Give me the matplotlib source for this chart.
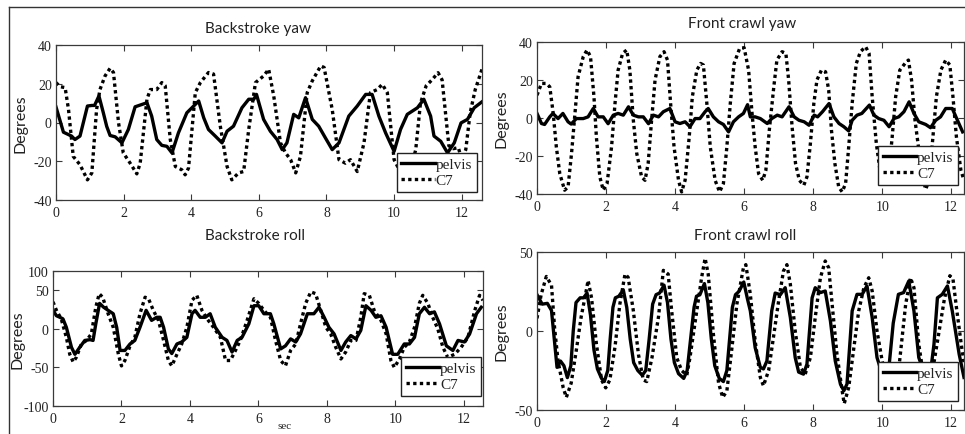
import matplotlib
matplotlib.use("Agg")
import matplotlib.pyplot as plt
from matplotlib.lines import Line2D

# ---------------- data ----------------
# Backstroke yaw
bs_yaw_pelvis_t = [0, 0.22, 0.46, 0.56, 0.71, 0.93, 1.06, 1.14, 1.27, 1.4, 1.5, 1.6, 1.75, 1.95, 2.14, 2.34,
                   2.54, 2.69, 2.83, 2.98, 3.13, 3.28, 3.43, 3.62, 3.87, 4.02, 4.22, 4.37, 4.51, 4.71, 4.91,
                   5.06, 5.25, 5.5, 5.7, 5.85, 5.93, 6.14, 6.34, 6.54, 6.69, 6.83, 7.03, 7.18, 7.38, 7.58,
                   7.77, 7.97, 8.17, 8.37, 8.66, 8.91, 9.16, 9.35, 9.55, 9.75, 10.0, 10.19, 10.39, 10.69,
                   10.88, 11.08, 11.18, 11.38, 11.58, 11.78, 11.98, 12.17, 12.37, 12.6]
bs_yaw_pelvis = [8, -5, -7, -8.8, -7, 8.5, 8.8, 8.8, 13.7, 5, -2, -6.7, -7.4, -10.5, -3.6, 8.1,
                 9.3, 10.2, 3.3, -8.8, -11.8, -12.3, -15.7, -5.4, 5, 7.6, 11.1, 2.4, -3.6, -7, -10.5,
                 -4.5, -1.9, 7.6, 12, 12, 14.5, 1.6, -4.5, -8.8, -14, -10.5, 4.2, 2.4, 12.8, 1.6,
                 -1.9, -8, -14, -10.5, 3.3, 8.5, 14.5, 14.5, 3.3, -5.4, -14.9, -3.6, 4.2, 7.6,
                 12, 3.3, -7, -9.7, -15.7, -10.5, -0.2, 1.6, 7.6, 10.7]
bs_yaw_c7_t = [0, 0.12, 0.27, 0.37, 0.51, 0.71, 0.93, 1.06, 1.2, 1.3, 1.45, 1.6, 1.7, 1.85, 1.99, 2.19,
               2.39, 2.49, 2.69, 2.79, 2.98, 3.13, 3.23, 3.38, 3.53, 3.72, 3.82, 3.92, 4.12, 4.27, 4.51,
               4.66, 4.86, 5.06, 5.2, 5.4, 5.55, 5.7, 5.9, 6.14, 6.29, 6.44, 6.64, 6.79, 6.94, 7.09,
               7.23, 7.43, 7.58, 7.83, 7.93, 8.17, 8.37, 8.56, 8.71, 8.91, 9.11, 9.3, 9.5, 9.65, 9.8,
               10.0, 10.2, 10.45, 10.64, 10.78, 10.95, 11.12, 11.3, 11.42, 11.52, 11.62, 11.75, 11.9,
               12.0, 12.12, 12.25, 12.4, 12.6]
bs_yaw_c7 = [20.6, 18.5, 18, 6.7, -17.5, -21.8, -29.6, -26, 6.7, 17, 24, 28, 25.8, -0.2, -15.7, -20.9,
             -26.5, -21, 12, 17, 17, 20.6, 19, -8.8, -22.7, -24.4, -27, -23.5, 15.4, 20.6, 25.8,
             25, -1.9, -22.7, -29.6, -26, -25.3, -3.6, 20.6, 24, 27.5, 13.7, -10.5, -15.7, -19.2, -26,
             -17.5, 15.4, 21.5, 29.2, 28.4, 6.7, -19.2, -21, -19.2, -25.3, -10.5, 15.4, 17, 19.7, 15.4,
             -19.2, -26, -27, -14, 10, 19, 22, 25.7, 22, 5, -12, -13.5, -13,
             -19, -14, 5, 17, 27.5]

# Front crawl yaw
fc_yaw_pelvis_t = [0, 0.13, 0.22, 0.37, 0.46, 0.61, 0.75, 0.9, 0.99, 1.14, 1.34, 1.48, 1.63, 1.77, 1.92,
                   2.06, 2.21, 2.35, 2.5, 2.65, 2.79, 2.94, 3.08, 3.23, 3.37, 3.52, 3.66, 3.85, 4.0, 4.14,
                   4.29, 4.43, 4.58, 4.72, 4.87, 4.96, 5.11, 5.26, 5.4, 5.55, 5.69, 5.84, 5.98, 6.1, 6.18,
                   6.32, 6.47, 6.67, 6.8, 6.96, 7.1, 7.3, 7.45, 7.59, 7.74, 7.88, 8.03, 8.13, 8.27, 8.46,
                   8.6, 8.75, 8.89, 9.03, 9.13, 9.27, 9.41, 9.63, 9.76, 9.9, 10.05, 10.2, 10.34, 10.48,
                   10.63, 10.78, 10.92, 11.06, 11.26, 11.4, 11.55, 11.69, 11.84, 12.03, 12.18, 12.33]
fc_yaw_pelvis = [2.4, -2.9, -3.4, 0.6, 2.4, -0.3, 2.4, -2, -3.2, -0.3, -0.3, 0.6, 5, 0.6, 0.6,
                 -3, 1.5, 2.4, 1.5, 5.9, 1.5, 0.6, 0.6, -3, 1.5, 0.6, 3.3, 5, -2, -2.9,
                 -2, -4.6, -0.3, -0.3, 3.3, 5, 0.6, -2, -3.4, -7.3, -2, 0.6, 2.4, 7, 0.6,
                 0.6, -0.3, -2.9, -0.3, 1.5, 0.6, 5.9, 0.6, -1.2, -2, -3.8, 1.5, 0.6, 3.3, 7.6,
                 0.6, -2.9, -4.6, -6.8, -1.2, 1.5, 2.4, 6.8, 1.5, -0.3, -1.2, -4.6, -0.3, 0.6,
                 3.3, 8.5, 2.4, -2, -3.4, -5.1, -1.2, 0.6, 5, 5, -1.2, -7.3]
fc_yaw_c7_t = [0, 0.13, 0.27, 0.37, 0.47, 0.56, 0.66, 0.8, 0.9, 1.0, 1.1, 1.19, 1.34, 1.45, 1.55, 1.65,
               1.72, 1.82, 1.92, 2.03, 2.16, 2.26, 2.35, 2.48, 2.6, 2.69, 2.79, 2.89, 3.03, 3.13, 3.22,
               3.32, 3.42, 3.56, 3.68, 3.78, 3.87, 3.97, 4.1, 4.19, 4.29, 4.41, 4.5, 4.63, 4.74, 4.82,
               4.92, 5.02, 5.16, 5.29, 5.4, 5.5, 5.6, 5.71, 5.87, 6.0, 6.13, 6.23, 6.32, 6.42, 6.54,
               6.63, 6.73, 6.86, 6.95, 7.1, 7.21, 7.29, 7.39, 7.49, 7.6, 7.73, 7.82, 7.92, 8.02, 8.11,
               8.24, 8.36, 8.45, 8.53, 8.63, 8.74, 8.84, 8.94, 9.03, 9.13, 9.25, 9.37, 9.52, 9.62, 9.71,
               9.83, 9.95, 10.05, 10.18, 10.29, 10.39, 10.51, 10.66, 10.76, 10.85, 10.95, 11.05, 11.15,
               11.26, 11.36, 11.47, 11.57, 11.7, 11.84, 11.96, 12.05, 12.15, 12.28, 12.37]
fc_yaw_c7 = [12, 18.2, 18.2, 16.4, 2.4, -15.2, -29.3, -38, -36.3, -18.7, 2.4, 21.7, 32.3, 35.8, 32.3, 11.2,
             -9.9, -31, -38, -34.5, -15.2, 7.7, 25.2, 34, 35.8, 25.2, -1.1, -18.7, -31, -32.8, -24,
             -1.1, 20, 32.3, 34.9, 30.5, 7.7, -15.2, -32.8, -38.9, -32.8, -9.9, 11.2, 25.2, 28.7, 27.9,
             7.7, -15.2, -32.8, -38.9, -34.5, -15.2, 7.7, 28.7, 36.6, 37, 25.2, 2.4, -15.2, -29.3, -32.8,
             -27.5, -6.4, 16.4, 30.5, 34.9, 34, 20, -4.7, -24, -32.8, -35.4, -31, -13.4, 7.7, 20,
             25.2, 24.3, 14.7, -6.4, -24, -36.3, -38.9, -34.5, -15.2, 7.7, 28.7, 34.9, 37.5, 34, 11.2,
             -13.4, -29.3, -32.8, -31, -9.9, 11.2, 25.2, 28.7, 30.5, 20, -1.1, -15.2, -30,
             -37.5, -32.8, -9.9, 11.2, 25.2, 30.5, 27.9, 11.2, -9.9, -27.5, -32.8]

# Backstroke roll
bs_roll_pelvis_t = [0, 0.1, 0.2, 0.29, 0.39, 0.54, 0.64, 0.78, 0.93, 1.08, 1.17, 1.25, 1.36, 1.48, 1.61, 1.76,
                    1.86, 1.96, 2.1, 2.25, 2.39, 2.54, 2.72, 2.88, 3.03, 3.13, 3.23, 3.37, 3.47, 3.62, 3.76,
                    3.91, 4.06, 4.15, 4.3, 4.45, 4.59, 4.74, 4.94, 5.08, 5.23, 5.38, 5.52, 5.72, 5.87, 6.01,
                    6.16, 6.35, 6.45, 6.65, 6.79, 6.94, 7.09, 7.23, 7.43, 7.62, 7.77, 7.92, 8.06, 8.21, 8.41,
                    8.55, 8.7, 8.85, 8.99, 9.14, 9.29, 9.43, 9.58, 9.73, 9.92, 10.07, 10.26, 10.41, 10.56,
                    10.7, 10.85, 11.0, 11.14, 11.29, 11.49, 11.68, 11.83, 12.02, 12.17, 12.37, 12.51]
bs_roll_pelvis = [24, 17, 15, 13, 2, -24, -33, -24, -15, -14, -15, 6.5, 33, 28, 24, 19.6,
                  2, -28, -28, -19.6, -15, 2, 24, 11, 15, 15, 2, -26, -32, -19.6, -17,
                  -11, 19.6, 24, 15, 15, 19.6, 2, -11, -15, -30, -15, -11, 6.5, 30, 30,
                  19.6, 19.6, 6.5, -26, -22, -13, -17, -6.5, 19.6, 19.6, 28, 15, 2, -6.5, -28,
                  -17, -8.7, -13, -2, 30, 24, 15, 17, 2, -33, -33, -19.6, -19.6, -11,
                  19.6, 28, 19.6, 22, 6.5, -22, -28, -15, -17, -6.5, 19.6, 28]
bs_roll_c7_t = [0, 0.1, 0.24, 0.39, 0.49, 0.59, 0.68, 0.83, 0.98, 1.12, 1.25, 1.35, 1.45, 1.61, 1.76, 1.91,
                2.0, 2.1, 2.25, 2.39, 2.54, 2.69, 2.79, 2.93, 3.08, 3.23, 3.37, 3.47, 3.62, 3.76, 3.91,
                4.06, 4.2, 4.35, 4.5, 4.69, 4.89, 5.04, 5.18, 5.33, 5.47, 5.67, 5.87, 6.01, 6.16, 6.35,
                6.5, 6.65, 6.79, 6.94, 7.09, 7.23, 7.38, 7.53, 7.67, 7.82, 7.97, 8.11, 8.26, 8.41, 8.55,
                8.7, 8.85, 8.99, 9.09, 9.24, 9.38, 9.58, 9.73, 9.87, 9.97, 10.12, 10.26, 10.41, 10.56,
                10.7, 10.8, 10.95, 11.09, 11.24, 11.39, 11.53, 11.73, 11.92, 12.12, 12.32, 12.46, 12.56]
bs_roll_c7 = [35, 24, 13, -11, -33, -43, -37, -19.6, -15, -6.5, 28, 45.6, 41, 19.6, 2, -33,
              -48, -41, -22, -11, 19.6, 41, 39, 24, 11, -15, -41, -48, -33, -19.6, 2,
              37, 43.5, 24, 13, 2, -11, -41, -41, -28, -15, 11, 39, 33, 24, 15,
              -15, -41, -48, -28, -19.6, 6.5, 33, 48, 45.6, 24, 2, -6.5, -24, -39, -30,
              -15, -15, 15, 45.6, 43.5, 24, 11, -6.5, -41, -50, -39, -24, -17, 2,
              33, 43.5, 33, 15, 0, -24, -37, -33, -24, -11, 24, 43.5, 37]

# Front crawl roll
fc_roll_pelvis_t = [0, 0.15, 0.3, 0.42, 0.5, 0.58, 0.68, 0.78, 0.88, 0.98, 1.05, 1.13, 1.25, 1.35, 1.45, 1.55,
                    1.65, 1.75, 1.87, 1.95, 2.05, 2.12, 2.2, 2.27, 2.37, 2.5, 2.6, 2.7, 2.8, 2.92, 3.05,
                    3.15, 3.25, 3.35, 3.45, 3.55, 3.68, 3.78, 3.88, 3.98, 4.1, 4.25, 4.35, 4.45, 4.55, 4.62,
                    4.72, 4.85, 4.95, 5.05, 5.15, 5.28, 5.4, 5.5, 5.58, 5.66, 5.75, 5.85, 5.99, 6.1, 6.18,
                    6.32, 6.47, 6.56, 6.66, 6.8, 6.9, 7.05, 7.19, 7.34, 7.48, 7.58, 7.72, 7.82, 7.97, 8.06,
                    8.21, 8.35, 8.5, 8.64, 8.79, 8.89, 8.98, 9.13, 9.27, 9.42, 9.56, 9.71, 9.85, 10.0, 10.1,
                    10.2, 10.32, 10.47, 10.62, 10.77, 10.92, 11.06, 11.16, 11.28, 11.4, 11.5, 11.6, 11.74,
                    11.89, 12.03, 12.23, 12.37]
fc_roll_pelvis = [23, 17, 17.5, 13, -5, -23, -19, -22, -29.5, -22, 0, 18, 21, 21, 24, 10,
                  -12, -24, -30, -32, -25, -5, 15, 21, 22, 26, 15, -5, -20, -25, -28,
                  -25, -5, 17, 23, 24, 29, 18, -5, -20, -27, -30, -25, -5, 15, 22,
                  23, 30, 18, -5, -22, -30, -32, -25, -5, 15, 23, 25, 31, 20, 12.7,
                  -10.5, -23, -24, -19, 12.7, 24, 23, 27.4, 8.5, -16.8, -26, -27.3, -21, 21, 27.4,
                  24.3, 25.3, 6.4, -18.9, -33.6, -37.8, -33.6, 12.7, 23.2, 23.2, 28.5, 8.5, -16.8, -27.3, -29.4,
                  -22, 5, 23.2, 24.3, 31.6, 12.7, -16.8, -23, -30, -26, -8.4, 21, 23.2,
                  28.5, 12.7, -14.7, -29.4]
fc_roll_c7_t = [0, 0.12, 0.27, 0.42, 0.51, 0.61, 0.76, 0.85, 0.99, 1.14, 1.28, 1.43, 1.48, 1.58, 1.72, 1.87,
                1.99, 2.11, 2.26, 2.4, 2.55, 2.64, 2.79, 2.94, 3.08, 3.18, 3.33, 3.52, 3.66, 3.8, 3.9,
                4.05, 4.19, 4.34, 4.43, 4.63, 4.77, 4.87, 4.96, 5.11, 5.26, 5.38, 5.5, 5.64, 5.79, 5.98,
                6.05, 6.18, 6.32, 6.47, 6.56, 6.71, 6.85, 7.0, 7.14, 7.24, 7.34, 7.48, 7.63, 7.77, 7.92,
                8.06, 8.21, 8.35, 8.45, 8.55, 8.69, 8.84, 8.9, 9.03, 9.18, 9.32, 9.47, 9.61, 9.71, 9.85,
                10.0, 10.12, 10.3, 10.5, 10.68, 10.82, 10.92, 11.06, 11.16, 11.3, 11.5, 11.65, 11.8,
                11.96, 12.05, 12.15, 12.3, 12.37]
fc_roll_c7 = [8, 23, 34.5, 29, 1.8, -19, -36, -42, -33, -12, 9, 26, 32, 21, -8, -31,
              -36, -31, -10, 17, 36, 34, 13, -15, -31, -32, -17, 9, 38.4, 36, 13,
              -17, -25, -28, -17, 13, 34, 46, 36, -2, -33, -42, -38, -12, 17, 40,
              42, 23.2, -6.3, -29.4, -34.7, -25, -4, 19, 38, 42, 29.5, 0, -23, -27.3, -16.8,
              8.5, 33.7, 44.3, 40, 16.9, -14.7, -37.8, -46, -35.7, -10.5, 12.7, 27.4, 33.7, 25.3, 0,
              -19, -30, -28, -20, 16.9, 33.7, 27.4, -8.4, -23, -33, -20, 0, 20,
              35, 33, 15, -10, -20]

yaw_ticks = [-40, -20, 0, 20, 40]
yaw_ticklabels = ['-40', '-20', '0', '20', '40']
bs_roll_ticks = [-100, -50, 0, 50, 75]
bs_roll_ticklabels = ['-100', '-50', '0', '50', '100']
fc_roll_ticks = [-50, 0, 50]
fc_roll_ticklabels = ['-50', '0', '50']
x_ticks = [0, 2, 4, 6, 8, 10, 12]
x_ticklabels = ['0', '2', '4', '6', '8', '10', '12']

titles = ['Backstroke yaw', 'Front crawl yaw', 'Backstroke roll', 'Front crawl roll']
series_labels = ['pelvis', 'C7']

# ---------------- drawing ----------------
SANS = ['Lato', 'DejaVu Sans']
SERIF = ['Liberation Serif', 'DejaVu Serif']
plt.rcParams['font.family'] = SERIF
SPINE = '#3a3a3a'
TXT = '#222222'

W, H = 965, 435
fig = plt.figure(figsize=(W / 100, H / 100), dpi=100)
fig.patch.set_facecolor('white')


def rect(l, r, t, b):
    return [l / W, 1 - b / H, (r - l) / W, (b - t) / H]


panels = [
    dict(rect=rect(56, 482, 46, 201), xlim=(0, 12.6), ylim=(-40, 40), yt=yaw_ticks, ytl=yaw_ticklabels,
         pt=bs_yaw_pelvis_t, pv=bs_yaw_pelvis, ct=bs_yaw_c7_t, cv=bs_yaw_c7,
         leg=(476.5, 193), title=(258, 29), ylab=-0.066),
    dict(rect=rect(537, 964, 43, 195), xlim=(0, 12.37), ylim=(-40, 40), yt=yaw_ticks, ytl=yaw_ticklabels,
         pt=fc_yaw_pelvis_t, pv=fc_yaw_pelvis, ct=fc_yaw_c7_t, cv=fc_yaw_c7,
         leg=(958, 186), title=(742, 24), ylab=-0.066),
    dict(rect=rect(53, 483, 272, 407), xlim=(0, 12.56), ylim=(-100, 75), yt=bs_roll_ticks, ytl=bs_roll_ticklabels,
         pt=bs_roll_pelvis_t, pv=bs_roll_pelvis, ct=bs_roll_c7_t, cv=bs_roll_c7,
         leg=(481, 397), title=(255, 236), ylab=-0.067),
    dict(rect=rect(537, 964, 253, 411), xlim=(0, 12.37), ylim=(-50, 50), yt=fc_roll_ticks, ytl=fc_roll_ticklabels,
         pt=fc_roll_pelvis_t, pv=fc_roll_pelvis, ct=fc_roll_c7_t, cv=fc_roll_c7,
         leg=(958, 402), title=(745, 236), ylab=-0.066),
]

for i, p in enumerate(panels):
    ax = fig.add_axes(p['rect'])
    ax.plot(p['pt'], p['pv'], color='black', lw=2.4, solid_joinstyle='round', label=series_labels[0])
    ax.plot(p['ct'], p['cv'], color='black', lw=2.4, linestyle=(0, (1.0, 1.0)),
            dash_capstyle='butt', label=series_labels[1])
    ax.set_xlim(*p['xlim'])
    ax.set_ylim(*p['ylim'])
    ax.set_xticks(x_ticks, labels=x_ticklabels, fontfamily=SERIF)
    ax.set_yticks(p['yt'], labels=p['ytl'], fontfamily=SERIF)
    ax.tick_params(direction='in', length=4, width=0.8, color=SPINE, top=True, right=True,
                   labelsize=10, labelcolor=TXT, pad=4)
    ax.tick_params(axis='y', pad=3)
    for s in ax.spines.values():
        s.set_color(SPINE)
        s.set_linewidth(0.9)
    ax.set_ylabel('Degrees', family=SANS, fontsize=11.5, color=TXT)
    ax.yaxis.set_label_coords(p['ylab'], 0.5)
    lx, ly = p['leg']
    leg = ax.legend(loc='lower right', bbox_to_anchor=(lx / W, 1 - ly / H),
                    bbox_transform=fig.transFigure, borderaxespad=0, fancybox=False,
                    framealpha=1, edgecolor='#222222', prop={'family': SERIF, 'size': 11},
                    handlelength=2.2, handletextpad=0.05, labelspacing=0.15, borderpad=0.3)
    leg.get_frame().set_linewidth(1.0)
    for txt in leg.get_texts():
        txt.set_color(TXT)
    tx, ty = p['title']
    fig.text(tx / W, 1 - ty / H, titles[i], family=SANS, fontsize=11, color=TXT,
             ha='center', va='center')

fig.text(285 / W, 1 - 427 / H, 'sec', family=SERIF, fontsize=8, color=TXT, ha='center', va='center')

# outer frame (top and left edges visible in the reference)
fig.add_artist(Line2D([9 / W, 1], [1 - 8 / H, 1 - 8 / H], transform=fig.transFigure, color='#333333', lw=1.0))
fig.add_artist(Line2D([9 / W, 9 / W], [0, 1 - 8 / H], transform=fig.transFigure, color='#333333', lw=1.0))

fig.savefig('out.png', dpi=100, facecolor='white')
